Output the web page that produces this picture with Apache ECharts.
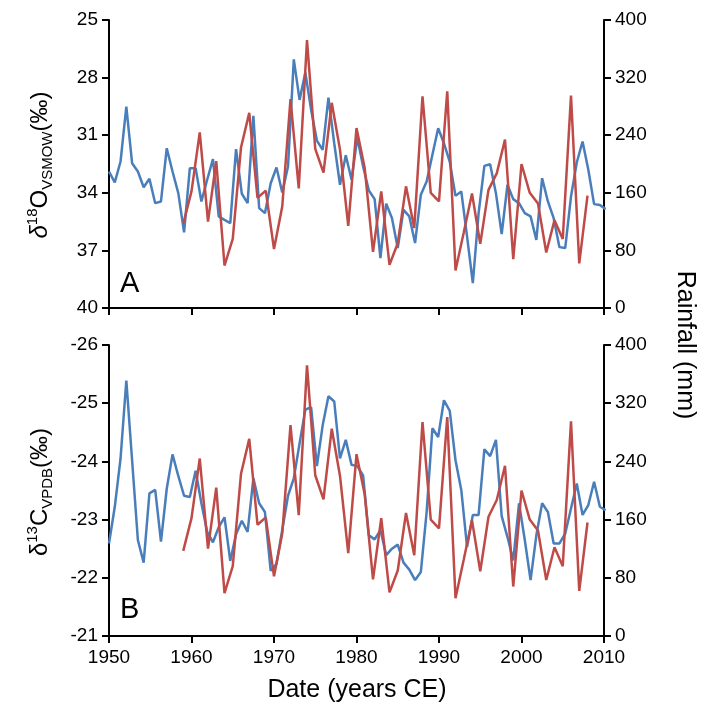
<!DOCTYPE html>
<html>
<head>
<meta charset="utf-8">
<script src="https://cdn.jsdelivr.net/npm/echarts@6/dist/echarts.min.js"></script>
<style>
  html, body { margin: 0; padding: 0; background: #fff; }
  #chart { width: 707px; height: 705px; }
</style>
</head>
<body>
<div id="chart"></div>
<script>
// sample dates of the isotope record (years CE)
var sampleYears = [1950, 1950.7, 1951.4, 1952.1, 1952.8, 1953.5, 1954.2, 1954.9, 1955.6, 1956.3,
  1957, 1957.7, 1958.4, 1959.1, 1959.8, 1960.5, 1961.2, 1961.9, 1962.6, 1963.3,
  1964, 1964.7, 1965.4, 1966.1, 1966.8, 1967.5, 1968.2, 1968.9, 1969.6, 1970.3,
  1971, 1971.7, 1972.4, 1973.1, 1973.8, 1974.5, 1975.2, 1975.9, 1976.6, 1977.3,
  1978, 1978.7, 1979.4, 1980.1, 1980.8, 1981.5, 1982.2, 1982.9, 1983.6, 1984.3,
  1985, 1985.7, 1986.4, 1987.1, 1987.8, 1988.5, 1989.2, 1989.9, 1990.6, 1991.3,
  1992, 1992.7, 1993.4, 1994.1, 1994.8, 1995.5, 1996.2, 1996.9, 1997.6, 1998.3,
  1999, 1999.7, 2000.4, 2001.1, 2001.8, 2002.5, 2003.2, 2003.9, 2004.6, 2005.3,
  2006, 2006.7, 2007.4, 2008.1, 2008.8, 2009.5, 2010.2];

// d18O (VSMOW, permil)
var d18O = [32.89, 33.46, 32.37, 29.51, 32.46, 32.89, 33.71, 33.27, 34.54, 34.45,
  31.68, 32.89, 34.02, 36.06, 32.72, 32.72, 34.45, 33.32, 32.25, 35.23,
  35.41, 35.58, 31.73, 34.05, 34.54, 29.99, 34.80, 35.06, 33.50, 32.68,
  33.98, 32.63, 27.05, 29.16, 27.74, 29.68, 31.28, 31.76, 29.04, 31.42,
  33.58, 32.04, 33.32, 31.13, 32.63, 33.88, 34.33, 37.40, 34.57, 35.32,
  36.88, 34.89, 35.23, 36.62, 34.10, 33.41, 32.02, 30.64, 31.42, 32.37,
  34.16, 33.93, 36.27, 38.70, 35.06, 32.60, 32.51, 34.02, 36.15, 33.58,
  34.33, 34.54, 35.06, 35.23, 36.45, 33.24, 34.45, 35.32, 36.83, 36.88,
  34.19, 32.42, 31.33, 32.80, 34.59, 34.63, 34.85];

// d13C (VPDB, permil)
var d13C = [-22.59, -23.22, -24.05, -25.39, -24.02, -22.65, -22.26, -23.45, -23.51, -22.62,
  -23.53, -24.12, -23.75, -23.41, -23.39, -23.84, -23.28, -22.79, -22.61, -22.87,
  -23.04, -22.29, -22.75, -22.98, -22.79, -23.71, -23.28, -23.13, -22.12, -22.24,
  -22.82, -23.41, -23.71, -24.31, -24.89, -24.93, -23.92, -24.62, -25.12, -25.03,
  -24.05, -24.37, -23.94, -23.92, -23.76, -22.73, -22.66, -22.82, -22.39, -22.50,
  -22.57, -22.26, -22.14, -21.96, -22.10, -23.13, -24.57, -24.42, -25.05, -24.87,
  -24.02, -23.51, -22.53, -23.08, -23.08, -24.21, -24.09, -24.37, -23.06, -22.70,
  -22.30, -23.28, -22.65, -21.96, -22.73, -23.28, -23.13, -22.59, -22.59, -22.76,
  -23.19, -23.62, -23.08, -23.25, -23.65, -23.22, -23.16];

// annual rainfall (mm)
var rainYears = [1959, 1960, 1961, 1962, 1963, 1964, 1965, 1966, 1967, 1968,
  1969, 1970, 1971, 1972, 1973, 1974, 1975, 1976, 1977, 1978,
  1979, 1980, 1981, 1982, 1983, 1984, 1985, 1986, 1987, 1988,
  1989, 1990, 1991, 1992, 1993, 1994, 1995, 1996, 1997, 1998,
  1999, 2000, 2001, 2002, 2003, 2004, 2005, 2006, 2007, 2008];
var rainfall = [117, 162, 244, 120, 204, 59, 96, 223, 271, 153,
  163, 82, 141, 290, 166, 372, 221, 188, 285, 220,
  114, 250, 194, 78, 162, 60, 90, 169, 111, 294,
  160, 148, 301, 52, 105, 159, 89, 164, 187, 234,
  68, 200, 160, 145, 77, 122, 96, 295, 62, 156];

// tick labels
var o18Ticks = [25, 28, 31, 34, 37, 40];
var c13Ticks = [-26, -25, -24, -23, -22, -21];
var rainTicks = [0, 80, 160, 240, 320, 400];

var FONT = "'Liberation Sans', Arial, sans-serif";
var BLUE = '#4a7ebb';
var RED = '#be4b48';

function pairs(xs, ys){
    var out = [];
    ys.forEach(function(v, i){
        out.push([xs[i], v]);
    });
    return out;
}

var axisLine = { show: true, onZero: false, lineStyle: { color: '#000', width: 2 } };
var axisTick = { show: true, length: 7, inside: false, lineStyle: { color: '#000', width: 2 } };
var axisLabel = { color: '#000', fontSize: 19, fontFamily: FONT, margin: 11,
    formatter: function(v){ return String(v); } };

function xAxis(grid, showLabel){
    return {
        type: 'value', gridIndex: grid, min: 1950, max: 2010, interval: 10,
        axisLine: axisLine, axisTick: axisTick, splitLine: { show: false },
        axisLabel: Object.assign({}, axisLabel, { show: showLabel, margin: 12 })
    };
}

function yAxis(grid, pos, min, max, ticks, inverse){
    return {
        type: 'value', gridIndex: grid, position: pos, min: min, max: max, inverse: inverse,
        axisLine: axisLine,
        axisTick: Object.assign({}, axisTick, { customValues: ticks }),
        axisLabel: Object.assign({}, axisLabel, { customValues: ticks }),
        splitLine: { show: false }
    };
}

function line(xi, yi, data, color){
    return {
        type: 'line', xAxisIndex: xi, yAxisIndex: yi, data: data,
        symbol: 'none', clip: true, lineStyle: { color: color, width: 2.5 }
    };
}

var chart = echarts.init(document.getElementById('chart'));
chart.setOption({
    animation: false,
    backgroundColor: '#fff',
    grid: [
        { left: 109, right: 103, top: 20, height: 288 },
        { left: 109, right: 103, top: 345, height: 291 }
    ],
    xAxis: [xAxis(0, false), xAxis(1, true)],
    yAxis: [
        yAxis(0, 'left', 25, 40, o18Ticks, true),
        yAxis(0, 'right', 0, 400, rainTicks, false),
        yAxis(1, 'left', -26, -21, c13Ticks, true),
        yAxis(1, 'right', 0, 400, rainTicks, false)
    ],
    series: [
        line(0, 0, pairs(sampleYears, d18O), BLUE),
        line(0, 1, pairs(rainYears, rainfall), RED),
        line(1, 2, pairs(sampleYears, d13C), BLUE),
        line(1, 3, pairs(rainYears, rainfall), RED)
    ],
    graphic: [
        {
            type: 'text', x: 40, y: 165, rotation: Math.PI / 2,
            style: {
                text: '{d|δ}{s|18}{m|O}{b|VSMOW}{m|(‰)}',
                align: 'center', verticalAlign: 'middle', fill: '#000',
                rich: {
                    d: { fontSize: 24, fontStyle: 'italic', fontFamily: FONT, lineHeight: 30 },
                    m: { fontSize: 24, fontFamily: FONT, lineHeight: 30 },
                    s: { fontSize: 15, fontFamily: FONT, verticalAlign: 'top', lineHeight: 15 },
                    b: { fontSize: 15, fontFamily: FONT, verticalAlign: 'bottom', lineHeight: 15 }
                }
            }
        },
        {
            type: 'text', x: 40, y: 492, rotation: Math.PI / 2,
            style: {
                text: '{d|δ}{s|13}{m|C}{b|VPDB}{m|(‰)}',
                align: 'center', verticalAlign: 'middle', fill: '#000',
                rich: {
                    d: { fontSize: 24, fontFamily: FONT, lineHeight: 30 },
                    m: { fontSize: 24, fontFamily: FONT, lineHeight: 30 },
                    s: { fontSize: 15, fontFamily: FONT, verticalAlign: 'top', lineHeight: 15 },
                    b: { fontSize: 15, fontFamily: FONT, verticalAlign: 'bottom', lineHeight: 15 }
                }
            }
        },
        {
            type: 'text', x: 685, y: 345, rotation: -Math.PI / 2,
            style: { text: 'Rainfall (mm)', fontSize: 25, fontFamily: FONT, fill: '#000', align: 'center', verticalAlign: 'middle' }
        },
        {
            type: 'text', x: 357, y: 690,
            style: { text: 'Date (years CE)', fontSize: 25, fontFamily: FONT, fill: '#000', align: 'center', verticalAlign: 'middle' }
        },
        {
            type: 'text', x: 120, y: 284,
            style: { text: 'A', fontSize: 29, fontFamily: FONT, fill: '#000', align: 'left', verticalAlign: 'middle' }
        },
        {
            type: 'text', x: 120, y: 610,
            style: { text: 'B', fontSize: 29, fontFamily: FONT, fill: '#000', align: 'left', verticalAlign: 'middle' }
        }
    ]
});
</script>
</body>
</html>
